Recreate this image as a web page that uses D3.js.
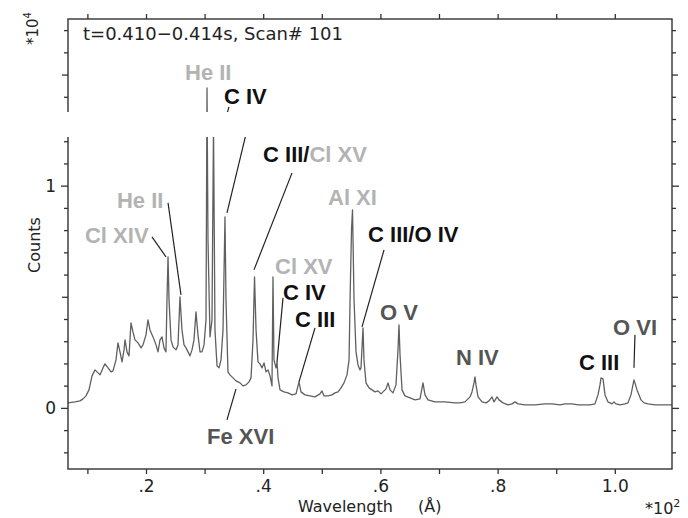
<!DOCTYPE html>
<html>
<head>
<meta charset="utf-8">
<script src="https://cdn.jsdelivr.net/npm/d3@7/dist/d3.min.js"></script>
<style>
  body { margin: 0; background: #fff; }
  svg text { font-family: "DejaVu Sans", sans-serif; }
  .lbl { font-family: "Liberation Sans", Arial, sans-serif; font-weight: bold; font-size: 22px; }
</style>
</head>
<body>
<svg id="chart" width="688" height="518"></svg>
<script>
// Spectrum: wavelength (Å) and detector counts
const wavelength = [
  66.9, 78.8, 87.4, 92.5, 97.6, 102.7, 107.9, 113.0, 118.1, 121.5, 126.6, 130.0, 135.2, 140.3, 143.7,
  148.8, 152.2, 155.6, 159.1, 162.5, 164.2, 167.6, 171.0, 174.4, 177.8, 181.2, 186.4, 191.5, 194.9,
  200.0, 203.4, 206.8, 212.0, 217.1, 220.5, 223.9, 227.3, 230.7, 234.1, 235.8, 237.6, 239.3, 242.7,
  246.1, 251.2, 254.6, 258.0, 261.4, 264.9, 268.3, 271.7, 275.1, 278.5, 281.9, 285.3, 288.7, 292.2,
  295.6, 299.0, 302.4, 304.1, 305.8, 309.2, 312.6, 315.2, 317.7, 321.2, 324.6, 328.0, 331.4, 334.8,
  336.5, 339.9, 343.3, 348.5, 353.6, 360.4, 365.5, 370.7, 375.8, 379.2, 382.6, 385.2, 387.8, 391.1,
  394.5, 398.0, 401.4, 404.8, 408.2, 411.6, 415.0, 416.7, 418.4, 421.8, 423.6, 425.3, 428.7, 435.5,
  442.3, 449.2, 456.0, 461.1, 464.5, 471.3, 479.9, 488.4, 496.9, 500.3, 503.8, 510.6, 517.4, 522.5,
  527.7, 532.8, 537.9, 543.0, 546.5, 548.2, 550.7, 552.4, 555.0, 558.4, 561.8, 565.2, 566.9, 570.3,
  572.0, 575.4, 580.6, 585.7, 590.8, 595.9, 601.0, 606.2, 609.6, 613.0, 616.4, 621.5, 626.6, 630.0,
  631.7, 633.5, 636.9, 642.0, 650.5, 659.1, 667.6, 672.7, 676.1, 681.2, 693.2, 710.2, 727.3, 735.8,
  744.4, 752.9, 756.3, 759.7, 761.4, 763.1, 766.6, 773.4, 780.2, 785.3, 790.5, 793.9, 799.0, 802.4,
  809.2, 817.8, 824.6, 829.7, 834.8, 846.8, 863.9, 880.9, 892.9, 906.5, 915.0, 927.0, 937.2, 957.7,
  966.2, 971.3, 974.7, 976.5, 979.9, 983.3, 988.4, 995.2, 998.6, 1002.0, 1008.9, 1017.4, 1022.5,
  1027.6, 1031.0, 1032.7, 1034.4, 1037.9, 1041.3, 1044.7, 1049.8, 1056.6, 1068.6, 1085.6, 1097.6
];
const counts = [
  225, 270, 315, 405, 540, 810, 1440, 1710, 1575, 1485, 1800, 1980, 1800, 1620, 1665,
  2160, 2925, 2520, 2070, 2610, 3060, 2520, 2340, 3825, 3420, 3060, 2925, 2700, 2835,
  3285, 3960, 3510, 3195, 2835, 2520, 3060, 3195, 2700, 2520, 4860, 6795, 4860, 3060,
  2745, 2610, 2835, 4995, 3510, 2835, 2700, 2520, 2340, 2610, 3060, 4320, 3285, 2520,
  2520, 2835, 3960, 14400, 7560, 3195, 3960, 12735, 3510, 1890, 1800, 2160, 3510, 8595,
  4860, 1620, 1485, 1350, 1215, 1125, 990, 1035, 1170, 1350, 3060, 5895, 3510, 2070,
  1980, 1800, 2025, 1620, 1710, 1440, 990, 5895, 2160, 1800, 2070, 1350, 810, 720,
  675, 585, 630, 1170, 720, 585, 540, 495, 630, 765, 540, 540, 585, 675,
  720, 900, 1125, 1485, 2160, 4860, 8010, 8910, 4860, 2520, 1935, 1710, 1800, 3600,
  2160, 1125, 900, 810, 720, 765, 630, 765, 855, 1125, 810, 675, 1035, 2610,
  3735, 2385, 810, 540, 450, 360, 405, 1125, 585, 360, 270, 270, 225, 225,
  270, 495, 720, 1125, 1395, 1035, 495, 270, 225, 315, 495, 270, 495, 360,
  225, 135, 180, 270, 180, 135, 135, 180, 180, 135, 180, 180, 135, 135,
  180, 585, 1035, 1350, 1305, 585, 270, 180, 270, 180, 135, 180, 225,
  585, 1035, 1260, 1125, 810, 585, 360, 225, 180, 135, 135, 135
];

// Axis ticks and labels
const xMinorTicks = [100, 200, 300, 400, 500, 600, 700, 800, 900, 1000];
const xLabelValues = [200, 400, 600, 800, 1000];
const xLabelText = [".2", ".4", ".6", ".8", "1.0"];
const yMinorTicks = d3.range(-2000, 17001, 1000);
const yHalfTicks = [5000, 15000];
const yLabelValues = [0, 10000];
const yLabelText = ["0", "1"];

// Line identifications: text runs (with tone), text anchor, leader segment
const lineLabels = [
  { runs: [["He II", "light"]], at: [266.6, 14760] },
  { runs: [["C IV", "dark"]], at: [333.1, 13680] },
  { runs: [["C III/", "dark"], ["Cl XV", "light"]], at: [399.7, 11070] },
  { runs: [["He II", "light"]], at: [150.5, 9000] },
  { runs: [["Cl XIV", "light"]], at: [95.9, 7425] },
  { runs: [["Al XI", "light"]], at: [510.6, 9135] },
  { runs: [["C III/O IV", "dark"]], at: [578.9, 7470] },
  { runs: [["Cl XV", "light"]], at: [420.2, 6030] },
  { runs: [["C IV", "dark"]], at: [433.8, 4860] },
  { runs: [["C III", "dark"]], at: [454.3, 3645] },
  { runs: [["O V", "mid"]], at: [599.3, 3960] },
  { runs: [["N IV", "mid"]], at: [729.0, 1935] },
  { runs: [["C III", "dark"]], at: [938.9, 1710] },
  { runs: [["O VI", "mid"]], at: [997.0, 3285] },
  { runs: [["Fe XVI", "mid"]], at: [304.1, -1620] }
];
const leaders = [
  [210.2, 7695, 234.1, 6795],
  [237.6, 9225, 259.7, 5085],
  [341.6, 13545, 338.2, 13230],
  [372.4, 12510, 338.2, 8775],
  [449.2, 10575, 384.3, 6210],
  [433.8, 4950, 423.6, 2070],
  [488.4, 3600, 461.1, 1170],
  [606.2, 7110, 568.6, 3645],
  [1034.4, 3285, 1032.7, 1800],
  [338.2, -540, 353.6, 855]
];

const tones = { light: "#b3b3b3", dark: "#111", mid: "#555" };

const svg = d3.select("#chart");
const frame = { left: 68, right: 672, top: 19, bottom: 469 };

const x = d3.scaleLinear().domain([66.9, 1097.6]).range([frame.left, frame.right]);
const y = d3.scaleLinear().domain([-2750, 17500]).range([frame.bottom, frame.top]);

// clip for the spectrum
svg.append("clipPath").attr("id", "plotArea")
  .append("rect")
  .attr("x", frame.left).attr("y", frame.top)
  .attr("width", frame.right - frame.left).attr("height", frame.bottom - frame.top);

const pts = wavelength.map((w, i) => [w, counts[i]]);
const line = d3.line().x(d => x(d[0])).y(d => y(d[1]));

svg.append("path")
  .datum(pts)
  .attr("clip-path", "url(#plotArea)")
  .attr("d", line)
  .attr("fill", "none")
  .attr("stroke", "#606060")
  .attr("stroke-width", 1.3)
  .attr("stroke-linejoin", "round");

// frame
svg.append("rect")
  .attr("x", frame.left).attr("y", frame.top)
  .attr("width", frame.right - frame.left).attr("height", frame.bottom - frame.top)
  .attr("fill", "none").attr("stroke", "#333").attr("stroke-width", 1.4);

// x axes (bottom and top ticks)
function styleAxis(g) {
  g.select(".domain").remove();
  g.selectAll(".tick line").attr("stroke", "#333").attr("stroke-width", 1.3);
  g.selectAll(".tick text").attr("fill", "#222");
}
const xb = svg.append("g").attr("transform", `translate(0,${frame.bottom})`)
  .call(d3.axisBottom(x).tickValues(xMinorTicks).tickSize(5)
    .tickFormat(v => { const i = xLabelValues.indexOf(v); return i >= 0 ? xLabelText[i] : ""; }))
  .call(styleAxis);
xb.selectAll(".tick text").attr("font-size", 17).attr("dy", "0.9em");

svg.append("g").attr("transform", `translate(0,${frame.top})`)
  .call(d3.axisTop(x).tickValues(xMinorTicks).tickSize(5).tickFormat(""))
  .call(styleAxis);

// y axes (left and right ticks with three lengths)
const tickLen = v => yLabelValues.includes(v) ? 7 : (yHalfTicks.includes(v) ? 6 : 4);
const yl = svg.append("g").attr("transform", `translate(${frame.left},0)`)
  .call(d3.axisLeft(y).tickValues(yMinorTicks).tickSize(4)
    .tickFormat(v => { const i = yLabelValues.indexOf(v); return i >= 0 ? yLabelText[i] : ""; }))
  .call(styleAxis);
yl.selectAll(".tick line").attr("x2", d => -tickLen(d));
yl.selectAll(".tick text").attr("font-size", 17).attr("x", -12);

const yr = svg.append("g").attr("transform", `translate(${frame.right},0)`)
  .call(d3.axisRight(y).tickValues(yMinorTicks).tickSize(4).tickFormat(""))
  .call(styleAxis);
yr.selectAll(".tick line").attr("x2", d => tickLen(d));

// leader lines
svg.append("g").selectAll("line").data(leaders).join("line")
  .attr("x1", d => x(d[0])).attr("y1", d => y(d[1]))
  .attr("x2", d => x(d[2])).attr("y2", d => y(d[3]))
  .attr("stroke", "#222").attr("stroke-width", 1.2);

// blank band across the upper-left of the panel
svg.append("rect")
  .attr("x", 0).attr("y", 112).attr("width", 370).attr("height", 25)
  .attr("fill", "#fff");

// line identifications
const lg = svg.append("g");
lineLabels.forEach(l => {
  const t = lg.append("text").attr("class", "lbl")
    .attr("x", x(l.at[0])).attr("y", y(l.at[1]));
  l.runs.forEach(r => t.append("tspan").attr("fill", tones[r[1]]).text(r[0]));
});

// titles
svg.append("text").attr("x", 83).attr("y", 40)
  .attr("font-size", 18).attr("fill", "#222")
  .text("t=0.410\u22120.414s, Scan# 101");

svg.append("text").attr("x", 298).attr("y", 512)
  .attr("font-size", 16).attr("fill", "#222")
  .text("Wavelength");
svg.append("text").attr("x", 418).attr("y", 512)
  .attr("font-size", 16).attr("fill", "#222")
  .text("(Å)");

const xm = svg.append("text").attr("x", 645).attr("y", 514)
  .attr("font-size", 16).attr("fill", "#222");
xm.append("tspan").text("*10");
xm.append("tspan").attr("font-size", 11).attr("dy", -7).text("2");

svg.append("text")
  .attr("transform", "translate(40,245) rotate(-90)")
  .attr("text-anchor", "middle")
  .attr("font-size", 16).attr("fill", "#222")
  .text("Counts");

const ym = svg.append("text")
  .attr("transform", "translate(38,45) rotate(-90)")
  .attr("font-size", 15).attr("fill", "#222");
ym.append("tspan").text("*10");
ym.append("tspan").attr("font-size", 10).attr("dy", -7).text("4");
</script>
</body>
</html>
